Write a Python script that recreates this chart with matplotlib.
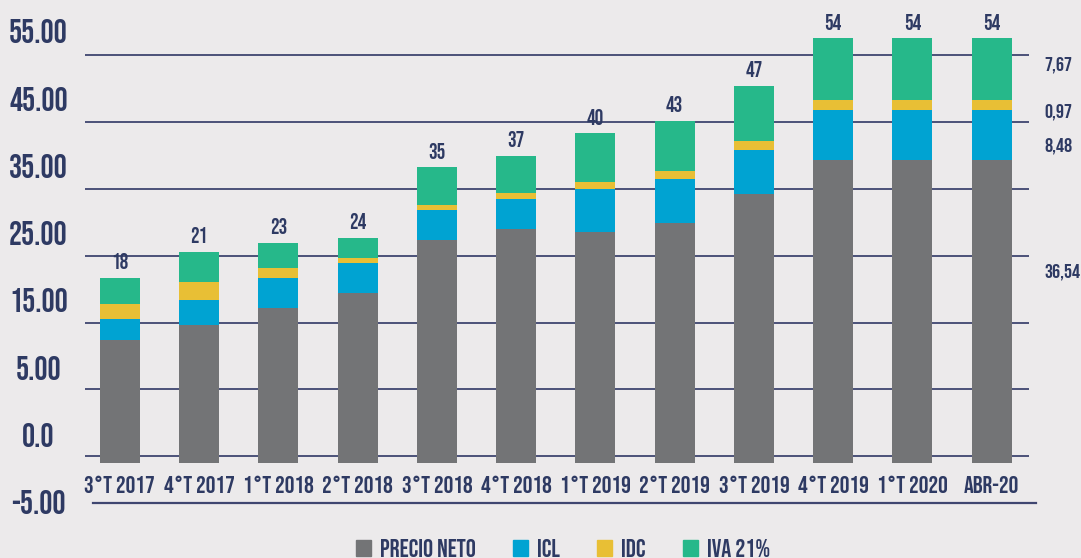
import numpy as np
import matplotlib.pyplot as plt
from matplotlib.patches import Patch

# datos
periodos = ['3°T 2017', '4°T 2017', '1°T 2018', '2°T 2018', '3°T 2018', '4°T 2018',
            '1°T 2019', '2°T 2019', '3°T 2019', '4°T 2019', '1°T 2020', 'ABR-20']
precio_neto = [15.5, 17.4, 19.6, 21.4, 28.1, 29.5, 29.2, 30.3, 33.9, 38.2, 38.2, 38.2]
icl = [2.7, 3.2, 3.8, 3.8, 3.8, 3.8, 5.4, 5.6, 5.6, 6.4, 6.4, 6.4]
idc = [1.9, 2.2, 1.2, 0.7, 0.6, 0.8, 0.9, 1.0, 1.1, 1.2, 1.2, 1.2]
iva = [3.3, 3.8, 3.2, 2.5, 4.8, 4.7, 6.1, 6.3, 7.0, 7.8, 7.8, 7.8]
totales = [18, 21, 23, 24, 35, 37, 40, 43, 47, 54, 54, 54]

etiquetas_y = ['55.00', '45.00', '35.00', '25.00', '15.00', '5.00', '0.0', '-5.00']
etiquetas_abr = ['7,67', '0,97', '8,48', '36,54']

# estilo
FONDO = '#ECEAEB'
TEXTO = '#2E3A63'
GRIS = '#737476'
AZUL = '#00A3D2'
AMARILLO = '#E8BF35'
VERDE = '#26B88A'
LINEA = '#3F4670'

plt.rcParams['font.family'] = ['Bebas Neue', 'DejaVu Sans']

fig = plt.figure(figsize=(10.81, 5.58), dpi=100, facecolor=FONDO)
ax = fig.add_axes([85 / 1081, 38 / 558, (1029 - 85) / 1081, 510 / 558])
ax.set_facecolor(FONDO)

x = np.arange(len(periodos))
ancho = 0.505

# lineas de guia (decorativas, como en el original)
for yg in np.linspace(51.47, 0.81, 7):
    ax.axhline(yg, color=LINEA, lw=1.3, zorder=1)

# linea bajo las etiquetas del eje x
ax.axhline(-5.13, xmin=0.0085, xmax=1.0074, color=LINEA, lw=1.6, clip_on=False, zorder=4)

b1 = np.array(precio_neto)
b2 = b1 + np.array(icl)
b3 = b2 + np.array(idc)
ax.bar(x, precio_neto, ancho, color=GRIS, zorder=2)
ax.bar(x, icl, ancho, bottom=b1, color=AZUL, zorder=2)
ax.bar(x, idc, ancho, bottom=b2, color=AMARILLO, zorder=2)
ax.bar(x, iva, ancho, bottom=b3, color=VERDE, zorder=2)

tope = b3 + np.array(iva)
for xi, top, t in zip(x, tope, totales):
    ax.annotate(str(t), (xi, top), xytext=(0, 6.3), textcoords='offset points',
                ha='center', va='baseline', fontsize=15.5, color=TEXTO)

ax.set_xlim(-0.44, 11.47)
ax.set_ylim(-7.24, 57.2)

# eje x
ax.set_xticks(x)
ax.set_xticklabels(periodos, fontsize=17.5, color=TEXTO)
ax.tick_params(axis='x', length=0, pad=-19.2)
for lab in ax.get_xticklabels():
    lab.set_verticalalignment('baseline')

# eje y (etiquetas decorativas)
ax.set_yticks(np.linspace(52.99, -6.53, len(etiquetas_y)))
ax.set_yticklabels(etiquetas_y, fontsize=23.5, color=TEXTO)
ax.tick_params(axis='y', length=0, pad=33.5)
for lab in ax.get_yticklabels():
    lab.set_horizontalalignment('center')
    lab.set_verticalalignment('baseline')

for s in ax.spines.values():
    s.set_visible(False)

# valores de ABR-20 a la derecha
for txt, yy in zip(etiquetas_abr, [49.55, 43.68, 39.32, 23.34]):
    ax.text(11.66, yy, txt, ha='left', va='baseline', fontsize=14.5, color=TEXTO,
            clip_on=False)

# leyenda
handles = [Patch(color=GRIS), Patch(color=AZUL), Patch(color=AMARILLO), Patch(color=VERDE)]
leg = fig.legend(handles, ['PRECIO NETO', 'ICL', 'IDC', 'IVA 21%'], loc='center',
                 bbox_to_anchor=(563 / 1081, 1 - 548 / 558), ncol=4, frameon=False,
                 fontsize=18, handlelength=0.6, handleheight=0.6, handletextpad=0.35,
                 columnspacing=1.5, borderpad=0)
for t in leg.get_texts():
    t.set_color(TEXTO)

fig.savefig('out.png', dpi=100, facecolor=FONDO)
